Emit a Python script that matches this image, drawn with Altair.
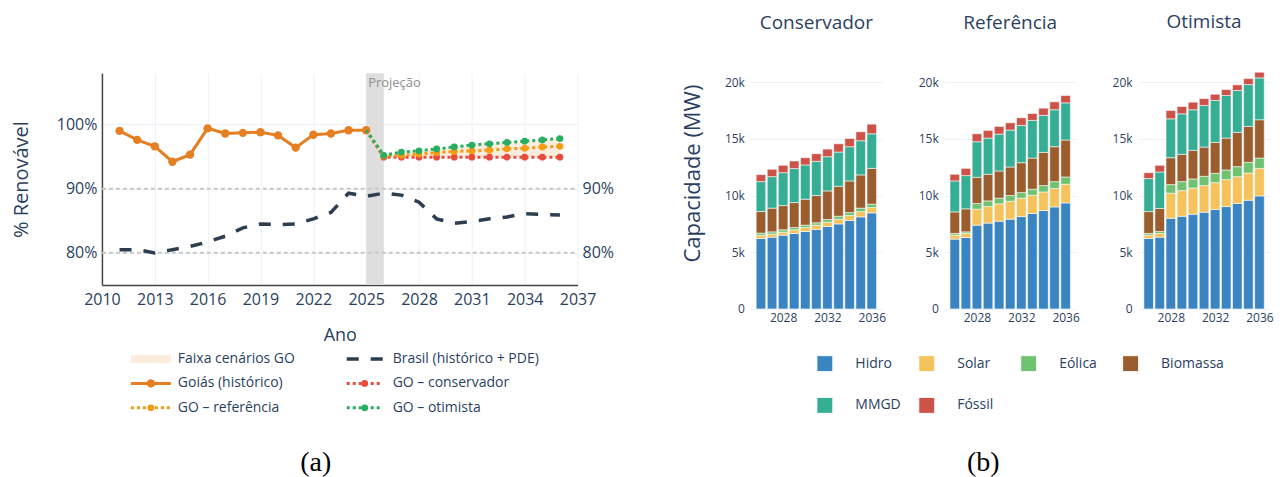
import altair as alt
import pandas as pd

# ---------------- Left chart data (% renewable) ----------------
hist_years = [2011, 2012, 2013, 2014, 2015, 2016, 2017, 2018, 2019, 2020, 2021, 2022, 2023, 2024, 2025]
goias_hist = [99.0, 97.6, 96.6, 94.2, 95.3, 99.4, 98.6, 98.7, 98.8, 98.3, 96.4, 98.4, 98.6, 99.1, 99.1]

brasil_years = [2011, 2012, 2013, 2014, 2015, 2016, 2017, 2018, 2019, 2020, 2021, 2022, 2023,
                2024, 2025, 2026, 2027, 2028, 2029, 2030, 2031, 2032, 2033, 2034, 2035, 2036]
brasil_pct = [80.5, 80.5, 80.0, 80.5, 81.0, 81.7, 82.6, 83.9, 84.5, 84.4, 84.5, 85.3, 86.3,
              89.3, 88.8, 89.3, 89.0, 87.9, 85.3, 84.6, 84.9, 85.3, 85.6, 86.1, 86.0, 85.9]

proj_years = [2025, 2026, 2027, 2028, 2029, 2030, 2031, 2032, 2033, 2034, 2035, 2036]
go_conservador = [99.1, 94.9, 94.9, 94.9, 94.9, 94.9, 94.9, 94.9, 94.9, 94.9, 94.9, 94.9]
go_referencia = [99.1, 95.1, 95.2, 95.4, 95.6, 95.8, 95.9, 96.0, 96.2, 96.3, 96.5, 96.6]
go_otimista = [99.1, 95.2, 95.7, 95.9, 96.2, 96.5, 96.8, 97.0, 97.2, 97.4, 97.6, 97.8]

proj_start, proj_end = 2025, 2026
ref_lines = [90, 80]

# ---------------- Right chart data (capacity, MW) ----------------
cap_years = [2026, 2027, 2028, 2029, 2030, 2031, 2032, 2033, 2034, 2035, 2036]
sources = ["Hidro", "Solar", "Eólica", "Biomassa", "MMGD", "Fóssil"]
scenarios = ["Conservador", "Referência", "Otimista"]

cons_hidro = [6220, 6330, 6510, 6660, 6830, 7010, 7270, 7500, 7800, 8120, 8470]
cons_solar = [280, 270, 260, 320, 350, 380, 380, 420, 440, 470, 470]
cons_eolica = [190, 200, 210, 200, 210, 210, 240, 260, 260, 300, 300]
cons_biomassa = [1900, 2090, 2140, 2200, 2290, 2400, 2520, 2640, 2790, 2930, 3160]
cons_mmgd = [2640, 2780, 2900, 3000, 3020, 3020, 3020, 3020, 3020, 3020, 3050]
cons_fossil = [620, 650, 650, 670, 640, 680, 670, 730, 730, 790, 850]

ref_hidro = [6160, 6300, 7390, 7570, 7740, 7920, 8150, 8420, 8680, 9000, 9350]
ref_solar = [350, 360, 1410, 1460, 1530, 1580, 1620, 1610, 1640, 1620, 1650]
ref_eolica = [150, 140, 500, 500, 500, 500, 490, 530, 560, 610, 640]
ref_biomassa = [1900, 2030, 2310, 2350, 2400, 2520, 2640, 2750, 2930, 3080, 3260]
ref_mmgd = [2730, 2930, 3140, 3190, 3250, 3260, 3290, 3320, 3260, 3260, 3280]
ref_fossil = [590, 640, 700, 680, 680, 640, 670, 610, 640, 700, 650]

oti_hidro = [6220, 6330, 8000, 8180, 8360, 8530, 8770, 9030, 9300, 9590, 9970]
oti_solar = [290, 330, 2210, 2260, 2310, 2350, 2370, 2380, 2370, 2400, 2430]
oti_eolica = [150, 170, 760, 790, 800, 820, 820, 850, 880, 940, 910]
oti_biomassa = [1930, 2030, 2370, 2410, 2520, 2580, 2730, 2810, 3020, 3170, 3380]
oti_mmgd = [2910, 3220, 3430, 3570, 3580, 3670, 3700, 3760, 3700, 3690, 3690]
oti_fossil = [520, 590, 740, 650, 670, 610, 550, 520, 500, 530, 500]

# ---------------- Styles ----------------
TXT = "#2a3f5f"
GRID = "#EBF0F8"
C_GOIAS = "#E67E22"
C_CONS = "#E74C3C"
C_REF = "#F39C12"
C_OTI = "#27AE60"
C_BR = "#2C3E50"
SRC_COLORS = ["#3A84C1", "#F5C25B", "#6FC270", "#9B5D2E", "#35AE93", "#CD5348"]

LW, LH = 476, 212        # left plot area
PW, PH = 132, 236        # each bar panel

# ---------------- Left chart ----------------
XS = alt.Scale(domain=[2010, 2037], nice=False, zero=False)
YS = alt.Scale(domain=[75, 108], nice=False, zero=False)
XAX = alt.Axis(values=list(range(2010, 2038, 3)), format="d", title="Ano",
               labelFontSize=16, titleFontSize=18, labelColor=TXT, titleColor=TXT,
               titleFontWeight="normal", grid=True, gridColor=GRID, domainColor="#444",
               domainWidth=1.5, ticks=False, labelPadding=7, titlePadding=19,
               labelFlush=False, labelOverlap=False)
YAX = alt.Axis(values=[80, 90, 100], labelExpr="datum.value + '%'", title="% Renovável",
               labelFontSize=16, titleFontSize=20, labelColor=TXT, titleColor=TXT,
               titleFontWeight="normal", grid=True, gridColor=GRID, domainColor="#444",
               domainWidth=1.5, ticks=False, labelPadding=5, titlePadding=25)


def X(f="year"):
    return alt.X(f + ":Q", scale=XS, axis=XAX)


def Y(f="pct"):
    return alt.Y(f + ":Q", scale=YS, axis=YAX)


df_goias = pd.DataFrame({"year": hist_years, "pct": goias_hist})
df_br = pd.DataFrame({"year": brasil_years, "pct": brasil_pct})
df_cons = pd.DataFrame({"year": proj_years, "pct": go_conservador})
df_ref = pd.DataFrame({"year": proj_years, "pct": go_referencia})
df_oti = pd.DataFrame({"year": proj_years, "pct": go_otimista})
df_band = pd.DataFrame({"year": proj_years[1:], "pct": go_conservador[1:], "pct2": go_otimista[1:]})

layers = []
layers.append(alt.Chart(pd.DataFrame({"year": [proj_start], "year2": [proj_end],
                                      "pct": [75], "pct2": [108]}))
              .mark_rect(color="#DEDEDE").encode(x=X(), x2="year2", y=Y(), y2="pct2"))
layers.append(alt.Chart(pd.DataFrame({"year": [2010, 2010], "year2": [2037, 2037], "pct": ref_lines}))
              .mark_rule(color="#C8C8C8", strokeDash=[4, 3], strokeWidth=2)
              .encode(x=X(), x2="year2", y=Y()))
layers.append(alt.Chart(df_band).mark_area(color=C_GOIAS, opacity=0.15)
              .encode(x=X(), y=Y(), y2="pct2"))
layers.append(alt.Chart(df_br).mark_line(color=C_BR, strokeWidth=3.5, strokeDash=[12, 12])
              .encode(x=X(), y=Y()))
layers.append(alt.Chart(df_goias).mark_line(color=C_GOIAS, strokeWidth=3).encode(x=X(), y=Y()))
layers.append(alt.Chart(df_goias).mark_point(filled=True, size=70, opacity=1, color=C_GOIAS)
              .encode(x=X(), y=Y()))
for d, c in [(df_cons, C_CONS), (df_ref, C_REF), (df_oti, C_OTI)]:
    layers.append(alt.Chart(d).mark_line(color=c, strokeWidth=3, strokeDash=[3, 3])
                  .encode(x=X(), y=Y()))
    layers.append(alt.Chart(d).transform_filter("datum.year >= 2026")
                  .mark_point(filled=True, size=45, opacity=1, color=c).encode(x=X(), y=Y()))
layers.append(alt.Chart(pd.DataFrame({"year": [proj_start], "label": ["Projeção"]}))
              .mark_text(align="left", baseline="top", dx=2, fontSize=13, color="#8E8E8E")
              .encode(x=X(), y=alt.value(4), text="label:N"))
layers.append(alt.Chart(pd.DataFrame({"pct": ref_lines, "label": ["90%", "80%"]}))
              .mark_text(align="left", baseline="middle", fontSize=16, color=TXT)
              .encode(x=alt.value(LW + 5), y=Y(), text="label:N"))

# custom legend (left chart)
leg_labels = ["Faixa cenários GO", "Brasil (histórico + PDE)", "Goiás (histórico)",
              "GO – conservador", "GO – referência", "GO – otimista"]
leg_kinds = ["band", "dash", "solid", "dot", "dot", "dot"]
leg_colors = [C_GOIAS, C_BR, C_GOIAS, C_CONS, C_REF, C_OTI]
one = pd.DataFrame({"a": [0]})
for i, (lab, kind, col) in enumerate(zip(leg_labels, leg_kinds, leg_colors)):
    cx, rw = i % 2, i // 2
    x0 = 29 + cx * 216
    sw = 40 if cx == 0 else 36
    gap = 7 if cx == 0 else 10
    yc = LH + 74 + rw * 24.5
    if kind == "band":
        layers.append(alt.Chart(one).mark_rect(color=col, opacity=0.15)
                      .encode(x=alt.value(x0), x2=alt.value(x0 + sw),
                              y=alt.value(yc - 4), y2=alt.value(yc + 4)))
    else:
        dash = {"dash": [12, 12], "solid": [1, 0], "dot": [3, 3]}[kind]
        width = 3.5 if kind == "dash" else 3
        layers.append(alt.Chart(one).mark_rule(color=col, strokeWidth=width, strokeDash=dash)
                      .encode(x=alt.value(x0), x2=alt.value(x0 + sw), y=alt.value(yc)))
        if kind != "dash":
            layers.append(alt.Chart(one).mark_point(filled=True, opacity=1, color=col,
                                                    size=70 if kind == "solid" else 45)
                          .encode(x=alt.value(x0 + sw / 2), y=alt.value(yc)))
    layers.append(alt.Chart(pd.DataFrame({"t": [lab]}))
                  .mark_text(align="left", baseline="middle", fontSize=14, color=TXT)
                  .encode(x=alt.value(x0 + sw + gap), y=alt.value(yc), text="t:N"))

layers.append(alt.Chart(pd.DataFrame({"t": ["(a)"]}))
              .mark_text(font="Liberation Serif", fontSize=28, color="black", baseline="middle")
              .encode(x=alt.value(214), y=alt.value(390), text="t:N"))

left = alt.layer(*layers).properties(width=LW, height=LH)

spacer = alt.Chart(one).mark_point(opacity=0).encode(x=alt.value(0), y=alt.value(0)) \
    .properties(width=49, height=LH)

# ---------------- Right charts ----------------
cap_tables = {
    "Conservador": [cons_hidro, cons_solar, cons_eolica, cons_biomassa, cons_mmgd, cons_fossil],
    "Referência": [ref_hidro, ref_solar, ref_eolica, ref_biomassa, ref_mmgd, ref_fossil],
    "Otimista": [oti_hidro, oti_solar, oti_eolica, oti_biomassa, oti_mmgd, oti_fossil],
}
rows = []
for scn, series in cap_tables.items():
    for k, (src, vals) in enumerate(zip(sources, series)):
        for yr, v in zip(cap_years, vals):
            rows.append({"scenario": scn, "source": src, "idx": k, "year": yr, "mw": v})
cap_df = pd.DataFrame(rows)

LEG = alt.Legend(orient="none", legendX=715, legendY=282, direction="horizontal", columns=4,
                 title=None, symbolType="square", symbolSize=256, symbolStrokeWidth=1,
                 symbolStrokeColor="white", labelFontSize=14, labelColor=TXT, labelOffset=22,
                 columnPadding=-2, rowPadding=21, gridAlign="all", padding=0, symbolOpacity=1)


def panel(scn, show_y, caption=None):
    bars = alt.Chart(cap_df[cap_df.scenario == scn]).mark_bar(
        width=9.6, stroke="white", strokeWidth=0.8, strokeOpacity=0.7
    ).encode(
        x=alt.X("year:Q", scale=alt.Scale(domain=[2025.5, 2036.5], nice=False, zero=False),
                axis=alt.Axis(values=[2028, 2032, 2036], format="d", title=None, grid=False,
                              domain=False, ticks=False, labelFontSize=12, labelColor=TXT,
                              labelPadding=4, labelFlush=False)),
        y=alt.Y("mw:Q", stack="zero", scale=alt.Scale(domain=[0, 20800], nice=False),
                axis=alt.Axis(values=[0, 5000, 10000, 15000, 20000],
                              labelExpr="datum.value === 0 ? '0' : (datum.value / 1000) + 'k'",
                              title="Capacidade (MW)" if show_y else None,
                              titleFontSize=22, titleColor=TXT, titleFontWeight="normal",
                              titlePadding=20, titleY=100,
                              labelFontSize=12, labelColor=TXT, labelPadding=6, grid=True,
                              gridColor=GRID, domain=False, ticks=False)),
        color=alt.Color("source:N", scale=alt.Scale(domain=sources, range=SRC_COLORS), legend=LEG),
        order=alt.Order("idx:Q", sort="ascending"),
    )
    ch = bars
    if caption:
        ch = alt.layer(bars, alt.Chart(pd.DataFrame({"t": [caption]}))
                       .mark_text(font="Liberation Serif", fontSize=28, color="black",
                                  baseline="middle")
                       .encode(x=alt.value(39), y=alt.value(390), text="t:N"))
    return ch.properties(
        width=PW, height=PH,
        title=alt.TitleParams(scn, fontSize=19, color=TXT, fontWeight="normal",
                              anchor="middle", offset=21, baseline="bottom"))


p1 = panel("Conservador", True)
p2 = panel("Referência", False, "(b)")
p3 = panel("Otimista", False)

chart = alt.hconcat(left, spacer, p1, p2, p3, spacing=62, bounds="flush") \
    .resolve_scale(x="independent", y="independent", color="shared") \
    .properties(padding={"left": 3, "top": 4, "right": 0, "bottom": 0}) \
    .configure(font="Open Sans") \
    .configure_view(stroke=None)

chart.save("out.html", embed_options={"renderer": "svg", "actions": False})
